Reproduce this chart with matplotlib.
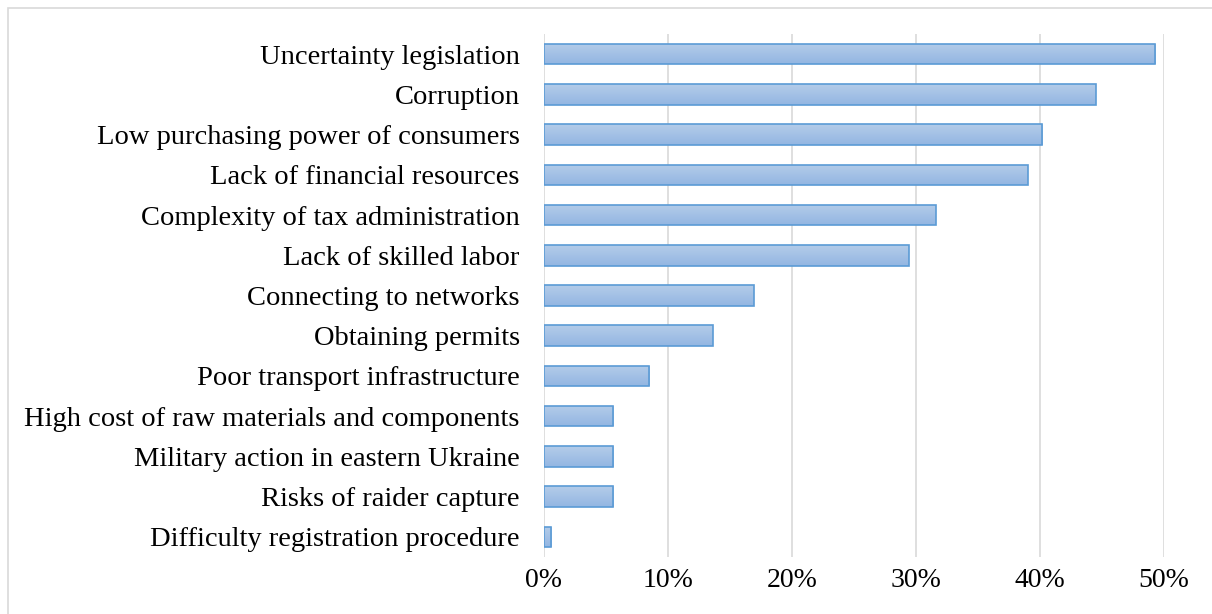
import matplotlib.pyplot as plt
import numpy as np
from matplotlib.patches import Rectangle
from matplotlib.ticker import FuncFormatter
from matplotlib.colors import LinearSegmentedColormap

categories = [
    "Uncertainty legislation",
    "Corruption",
    "Low purchasing power of consumers",
    "Lack of financial resources",
    "Complexity of tax administration",
    "Lack of skilled labor",
    "Connecting to networks",
    "Obtaining permits",
    "Poor transport infrastructure",
    "High cost of raw materials and components",
    "Military action in eastern Ukraine",
    "Risks of raider capture",
    "Difficulty registration procedure",
]
shares = [0.493, 0.445, 0.402, 0.390, 0.316, 0.294, 0.169, 0.136, 0.085, 0.056, 0.056, 0.056, 0.006]

plt.rcParams['font.family'] = ['Liberation Serif', 'DejaVu Serif']

fig = plt.figure(figsize=(12.12, 6.14), dpi=100)
ax = fig.add_axes([0.4488, 0.0928, 0.5116, 0.8518])

y = np.arange(len(categories))
bars = ax.barh(y, shares, height=0.51, color='#a5c2e6', edgecolor='#5b9bd5', linewidth=1.2, zorder=3)

# vertical gradient inside each bar (lighter top, darker bottom)
grad = np.linspace(0, 1, 64).reshape(-1, 1)
cmap = LinearSegmentedColormap.from_list('bar', ['#b4cce9', '#93b6e2'])
for b in bars:
    x0, y0, w, h = b.get_x(), b.get_y(), b.get_width(), b.get_height()
    im = ax.imshow(grad, extent=[x0, x0 + w, y0 + h, y0], aspect='auto', cmap=cmap,
                   origin='upper', zorder=3.5)
    im.set_clip_path(b)
    b.set_facecolor('none')
    b.set_zorder(4)

ax.set_ylim(len(categories) - 0.5, -0.5)
ax.set_xlim(0, 0.5)
ax.set_yticks(y)
ax.set_yticklabels(categories, fontsize=20.5)
ax.set_xticks(np.arange(0, 0.51, 0.1))
ax.xaxis.set_major_formatter(FuncFormatter(lambda v, p: f"{v*100:.0f}%"))
ax.tick_params(axis='x', labelsize=20, length=0, pad=8)
ax.tick_params(axis='y', length=0, pad=17.5)
ax.grid(axis='x', color='#d9d9d9', linewidth=1.2, zorder=0)
for s in ax.spines.values():
    s.set_visible(False)

fig.patches.append(Rectangle((8 / 1212, -0.1), 1.2, (614 - 8) / 614 + 0.1, transform=fig.transFigure,
                             fill=False, edgecolor='#d9d9d9', linewidth=1.2))

fig.savefig('out.png', dpi=100)
